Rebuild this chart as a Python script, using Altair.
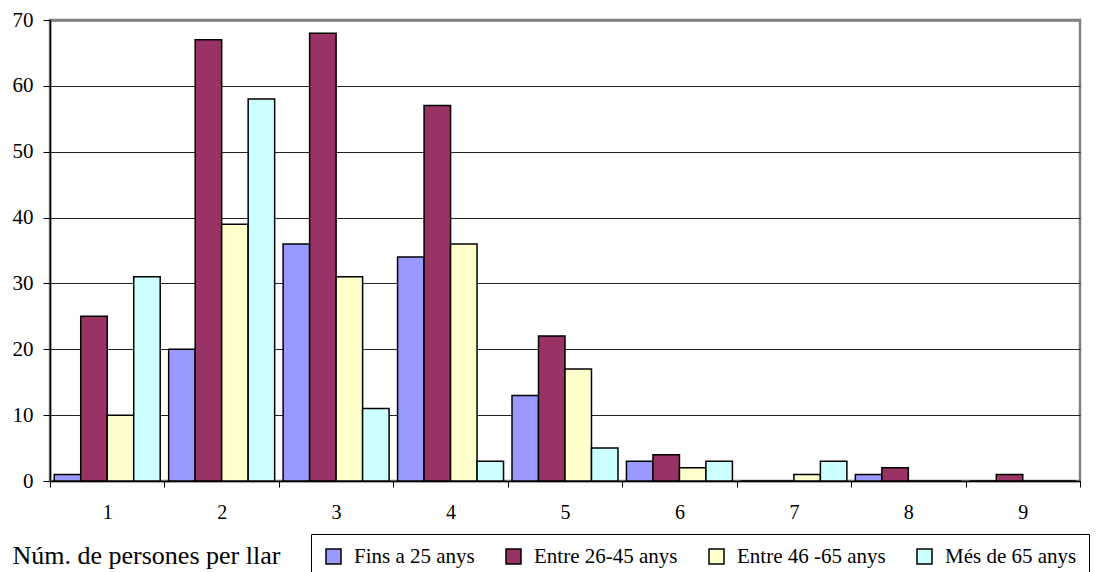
import altair as alt
import pandas as pd

categories = ["1", "2", "3", "4", "5", "6", "7", "8", "9"]
series = ["Fins a 25 anys", "Entre 26-45 anys", "Entre 46 -65 anys", "Més de 65 anys"]
fins25 = [1, 20, 36, 34, 13, 3, 0, 1, 0]
entre26_45 = [25, 67, 68, 57, 22, 4, 0, 2, 1]
entre46_65 = [10, 39, 31, 36, 17, 2, 1, 0, 0]
mes65 = [31, 58, 11, 3, 5, 3, 3, 0, 0]
colors = ["#9999FF", "#993366", "#FFFFCC", "#CCFFFF"]
y_ticks = [0, 10, 20, 30, 40, 50, 60, 70]

rows = []
for s, vals in zip(series, [fins25, entre26_45, entre46_65, mes65]):
    for c, v in zip(categories, vals):
        rows.append({"num": c, "serie": s, "value": v})
df = pd.DataFrame(rows)

FONT = "Liberation Serif"

chart = alt.Chart(df).mark_bar(stroke="black", strokeWidth=1.5).encode(
    x=alt.X(
        "num:N", sort=categories,
        scale=alt.Scale(paddingInner=0, paddingOuter=0),
        axis=alt.Axis(
            title="Núm. de persones per llar", labelAngle=0, tickBand="extent",
            tickSize=6, tickColor="black", domainColor="black", domainWidth=1.5,
            labelFont=FONT, labelFontSize=20, labelColor="black", labelPadding=15,
            titleFont=FONT, titleFontSize=26, titleFontWeight="normal", titleColor="black",
            titleAlign="left", titleBaseline="alphabetic", titleX=-38, titleY=82,
            titleAnchor="start", grid=False,
        ),
    ),
    xOffset=alt.XOffset("serie:N", sort=series,
                        scale=alt.Scale(paddingOuter=0.16, paddingInner=0)),
    y=alt.Y(
        "value:Q",
        scale=alt.Scale(domain=[0, 70], nice=False),
        axis=alt.Axis(
            values=y_ticks, title=None, tickSize=7, tickColor="black",
            domainColor="black", domainWidth=1.5,
            labelFont=FONT, labelFontSize=21, labelColor="black", labelPadding=10,
            grid=True,
            gridColor={"condition": {"test": "datum.value === 70", "value": "#808080"}, "value": "#222222"},
            gridWidth={"condition": {"test": "datum.value === 70", "value": 2.5}, "value": 1},
        ),
    ),
    color=alt.Color(
        "serie:N", sort=series,
        scale=alt.Scale(domain=series, range=colors),
        legend=alt.Legend(
            title=None, orient="none", legendX=261, legendY=514, direction="horizontal",
            symbolType="square", symbolSize=225, symbolStrokeColor="black", symbolStrokeWidth=1.5,
            labelFont=FONT, labelFontSize=21, labelColor="black", labelOffset=10,
            columnPadding=28, strokeColor="black", padding=12,
        ),
    ),
).properties(
    width=1030, height=461,
    padding={"left": 42, "top": 12, "right": 14, "bottom": 91},
    autosize=alt.AutoSizeParams(type="none"),
).configure_view(stroke="#808080", strokeWidth=2.5)

chart.save("out.html", embed_options={"renderer": "svg", "actions": False})
